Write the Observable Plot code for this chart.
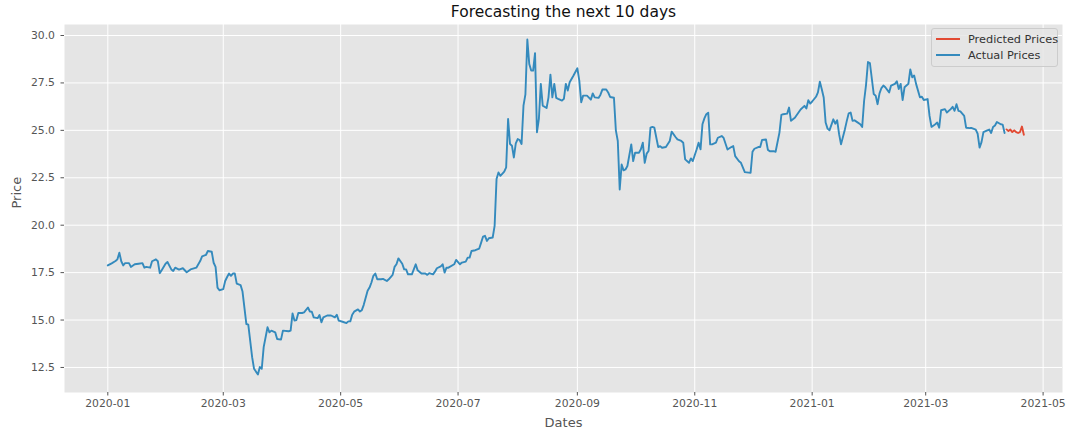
<!DOCTYPE html>
<html>
<head>
<meta charset="utf-8">
<script src="https://cdn.jsdelivr.net/npm/d3@7"></script>
<script src="https://cdn.jsdelivr.net/npm/@observablehq/plot@0.6"></script>
<style>
  body { margin: 0; background: white; }
  #wrap { position: relative; width: 1076px; height: 437px; font-family: "DejaVu Sans", sans-serif; }
  #legend { position: absolute; left: 931px; top: 28px; width: 127px; height: 39px;
    background: rgba(229,229,229,0.8); border: 1px solid #cccccc; border-radius: 3px; box-sizing: border-box; }
  .item { position: absolute; left: 0; height: 14px; display: flex; align-items: center; font-size: 11.3px; color: #333; white-space: nowrap; }
  .sw { display: inline-block; width: 24px; height: 2px; margin-left: 4px; margin-right: 8px; }
</style>
</head>
<body>
<div id="wrap">
  <div id="chart"></div>
  <div id="legend">
    <div class="item" style="top:3px"><span class="sw" style="background:#E24A33"></span>Predicted Prices</div>
    <div class="item" style="top:19px"><span class="sw" style="background:#348ABD"></span>Actual Prices</div>
  </div>
</div>
<script>
const titleText = "Forecasting the next 10 days";
const xLabel = "Dates";
const yLabel = "Price";

const actual = [
["2020-01-01",17.88],["2020-01-03",17.99],["2020-01-05",18.11],["2020-01-06",18.2],["2020-01-07",18.55],["2020-01-08",18.1],["2020-01-09",17.88],["2020-01-10",18.0],["2020-01-12",18.0],["2020-01-13",17.8],["2020-01-15",17.94],["2020-01-17",17.97],["2020-01-19",18.0],["2020-01-20",17.76],["2020-01-21",17.8],["2020-01-23",17.76],["2020-01-24",18.1],["2020-01-26",18.2],["2020-01-27",18.1],["2020-01-28",17.47],["2020-01-29",17.62],["2020-01-31",17.97],
["2020-02-01",18.06],["2020-02-03",17.67],["2020-02-04",17.59],["2020-02-05",17.76],["2020-02-07",17.66],["2020-02-09",17.73],["2020-02-11",17.52],["2020-02-13",17.67],["2020-02-16",17.76],["2020-02-18",18.11],["2020-02-19",18.36],["2020-02-21",18.43],["2020-02-22",18.64],["2020-02-24",18.6],["2020-02-25",18.02],["2020-02-26",17.8],["2020-02-27",16.71],["2020-02-28",16.57],
["2020-03-01",16.63],["2020-03-02",17.06],["2020-03-03",17.27],["2020-03-04",17.45],["2020-03-05",17.33],["2020-03-06",17.45],["2020-03-07",17.45],["2020-03-08",16.92],["2020-03-10",16.84],["2020-03-11",16.5],["2020-03-13",14.79],["2020-03-14",14.76],["2020-03-16",13.04],["2020-03-17",12.43],["2020-03-19",12.13],["2020-03-20",12.52],["2020-03-21",12.43],["2020-03-22",13.57],["2020-03-24",14.62],["2020-03-25",14.35],["2020-03-26",14.44],["2020-03-28",14.35],["2020-03-29",14.0],["2020-03-31",13.97],
["2020-04-01",14.44],["2020-04-04",14.41],["2020-04-05",14.44],["2020-04-06",15.35],["2020-04-07",14.97],["2020-04-08",15.0],["2020-04-09",15.37],["2020-04-11",15.37],["2020-04-12",15.4],["2020-04-14",15.66],["2020-04-15",15.45],["2020-04-16",15.44],["2020-04-17",15.14],["2020-04-19",15.1],["2020-04-20",15.26],["2020-04-21",14.88],["2020-04-22",15.14],["2020-04-24",15.24],["2020-04-26",15.24],["2020-04-28",15.14],["2020-04-29",15.28],["2020-04-30",14.97],
["2020-05-02",14.91],["2020-05-04",14.84],["2020-05-05",14.93],["2020-05-06",14.93],["2020-05-07",15.28],["2020-05-08",15.44],["2020-05-10",15.56],["2020-05-11",15.45],["2020-05-12",15.52],["2020-05-13",15.8],["2020-05-15",16.54],["2020-05-16",16.71],["2020-05-17",16.98],["2020-05-18",17.33],["2020-05-19",17.45],["2020-05-20",17.15],["2020-05-22",17.15],["2020-05-23",17.17],["2020-05-25",17.06],["2020-05-26",17.15],["2020-05-28",17.38],["2020-05-29",17.8],["2020-05-30",17.94],["2020-05-31",18.25],
["2020-06-02",17.97],["2020-06-03",17.67],["2020-06-04",17.67],["2020-06-05",17.41],["2020-06-07",17.41],["2020-06-08",17.67],["2020-06-09",17.94],["2020-06-10",17.62],["2020-06-12",17.45],["2020-06-14",17.45],["2020-06-15",17.38],["2020-06-16",17.47],["2020-06-18",17.41],["2020-06-19",17.55],["2020-06-20",17.73],["2020-06-22",17.83],["2020-06-23",17.94],["2020-06-24",17.5],["2020-06-25",17.76],["2020-06-26",17.76],["2020-06-29",17.94],["2020-06-30",18.17],
["2020-07-02",17.94],["2020-07-03",18.03],["2020-07-05",18.08],["2020-07-06",18.29],["2020-07-07",18.29],["2020-07-08",18.64],["2020-07-10",18.68],["2020-07-12",18.77],["2020-07-13",19.08],["2020-07-14",19.4],["2020-07-15",19.44],["2020-07-16",19.17],["2020-07-17",19.31],["2020-07-19",19.35],["2020-07-20",19.96],["2020-07-21",22.43],["2020-07-22",22.78],["2020-07-23",22.6],["2020-07-25",22.82],["2020-07-26",23.05],["2020-07-27",25.6],["2020-07-28",24.28],["2020-07-29",24.19],["2020-07-30",23.57],["2020-07-31",24.31],
["2020-08-01",24.54],["2020-08-02",24.49],["2020-08-03",24.28],["2020-08-04",26.3],["2020-08-05",26.9],["2020-08-06",29.79],["2020-08-07",28.5],["2020-08-08",28.15],["2020-08-09",28.15],["2020-08-10",29.07],["2020-08-11",24.9],["2020-08-12",25.6],["2020-08-13",27.45],["2020-08-14",26.3],["2020-08-16",26.18],["2020-08-17",26.74],["2020-08-18",27.94],["2020-08-19",26.74],["2020-08-20",27.45],["2020-08-21",26.71],["2020-08-22",26.66],["2020-08-24",26.57],["2020-08-25",26.66],["2020-08-26",27.45],["2020-08-27",27.1],["2020-08-28",27.54],["2020-08-30",27.89],
["2020-09-01",28.27],["2020-09-02",27.62],["2020-09-03",26.48],["2020-09-04",26.83],["2020-09-06",26.83],["2020-09-08",26.62],["2020-09-09",26.95],["2020-09-10",26.74],["2020-09-12",26.71],["2020-09-13",26.88],["2020-09-14",27.15],["2020-09-16",27.15],["2020-09-17",27.0],["2020-09-18",26.76],["2020-09-20",26.72],["2020-09-21",25.0],["2020-09-22",24.44],["2020-09-23",21.88],["2020-09-24",23.2],["2020-09-25",22.89],["2020-09-26",22.94],["2020-09-27",23.12],["2020-09-29",24.26],["2020-09-30",23.38],
["2020-10-01",23.82],["2020-10-03",23.82],["2020-10-04",24.0],["2020-10-05",24.35],["2020-10-06",23.29],["2020-10-07",23.77],["2020-10-08",23.91],["2020-10-09",25.14],["2020-10-10",25.18],["2020-10-11",25.14],["2020-10-13",24.12],["2020-10-14",24.17],["2020-10-15",24.08],["2020-10-17",24.12],["2020-10-19",24.44],["2020-10-20",24.93],["2020-10-22",24.65],["2020-10-23",24.52],["2020-10-25",24.44],["2020-10-26",24.35],["2020-10-27",23.47],["2020-10-29",23.29],["2020-10-30",23.52],["2020-10-31",23.38],
["2020-11-02",24.0],["2020-11-03",24.35],["2020-11-04",24.0],["2020-11-05",25.32],["2020-11-06",25.63],["2020-11-07",25.85],["2020-11-08",25.93],["2020-11-09",24.26],["2020-11-10",24.26],["2020-11-12",24.35],["2020-11-13",24.61],["2020-11-15",24.7],["2020-11-16",24.6],["2020-11-18",23.99],["2020-11-20",24.12],["2020-11-21",24.17],["2020-11-22",23.64],["2020-11-24",23.37],["2020-11-25",23.29],["2020-11-27",22.8],["2020-11-30",22.76],
["2020-12-01",23.87],["2020-12-02",24.03],["2020-12-04",24.12],["2020-12-05",24.12],["2020-12-06",24.5],["2020-12-08",24.52],["2020-12-09",23.97],["2020-12-10",23.9],["2020-12-12",23.9],["2020-12-13",23.87],["2020-12-15",24.88],["2020-12-16",25.81],["2020-12-17",25.85],["2020-12-19",25.88],["2020-12-20",26.2],["2020-12-21",25.5],["2020-12-23",25.66],["2020-12-24",25.81],["2020-12-26",26.1],["2020-12-28",26.29],["2020-12-29",26.15],["2020-12-30",26.59],["2020-12-31",26.41],
["2021-01-01",26.52],["2021-01-03",26.77],["2021-01-04",27.0],["2021-01-05",27.56],["2021-01-06",27.17],["2021-01-07",26.73],["2021-01-08",25.41],["2021-01-09",25.09],["2021-01-10",25.0],["2021-01-12",25.58],["2021-01-13",25.35],["2021-01-14",25.53],["2021-01-15",24.8],["2021-01-16",24.26],["2021-01-18",25.05],["2021-01-19",25.5],["2021-01-20",25.9],["2021-01-21",25.94],["2021-01-22",25.5],["2021-01-23",25.53],["2021-01-24",25.46],["2021-01-26",25.32],["2021-01-27",25.18],["2021-01-28",26.56],["2021-01-29",27.4],["2021-01-30",28.6],["2021-01-31",28.55],
["2021-02-02",26.91],["2021-02-03",26.83],["2021-02-04",26.38],["2021-02-05",26.95],["2021-02-06",27.23],["2021-02-07",27.36],["2021-02-08",27.27],["2021-02-10",27.0],["2021-02-11",27.36],["2021-02-13",27.45],["2021-02-14",27.59],["2021-02-15",27.18],["2021-02-16",27.45],["2021-02-17",26.6],["2021-02-18",27.27],["2021-02-19",27.36],["2021-02-20",27.45],["2021-02-21",28.21],["2021-02-22",27.8],["2021-02-23",27.89],["2021-02-24",27.45],["2021-02-26",26.74],["2021-02-27",26.77],["2021-02-28",26.6],
["2021-03-02",26.65],["2021-03-03",25.76],["2021-03-04",25.18],["2021-03-06",25.32],["2021-03-07",25.41],["2021-03-08",25.14],["2021-03-09",26.06],["2021-03-11",26.12],["2021-03-12",25.94],["2021-03-14",26.12],["2021-03-15",26.24],["2021-03-16",26.03],["2021-03-17",26.38],["2021-03-18",26.03],["2021-03-19",26.0],["2021-03-21",25.76],["2021-03-22",25.14],["2021-03-24",25.12],["2021-03-25",25.12],["2021-03-27",25.04],["2021-03-28",24.82],["2021-03-29",24.09],["2021-03-30",24.38],["2021-03-31",24.91],
["2021-04-02",25.0],["2021-04-03",25.04],["2021-04-04",24.86],["2021-04-05",25.18],["2021-04-06",25.26],["2021-04-07",25.44],["2021-04-09",25.32],["2021-04-10",25.3],["2021-04-11",24.86]
];

const predicted = [
["2021-04-12",25.05],["2021-04-13",24.96],["2021-04-14",25.04],["2021-04-15",24.91],["2021-04-16",25.0],["2021-04-17",24.91],["2021-04-18",24.86],["2021-04-19",24.91],["2021-04-20",25.2],["2021-04-21",24.77]
];

const xTickLabels = ["2020-01","2020-03","2020-05","2020-07","2020-09","2020-11","2021-01","2021-03","2021-05"];
const yTicks = [12.5, 15.0, 17.5, 20.0, 22.5, 25.0, 27.5, 30.0];

const toRows = arr => arr.map(([d, p]) => ({date: new Date(d + "T00:00:00Z"), price: p}));
const actualRows = toRows(actual);
const predictedRows = toRows(predicted);
const xTicks = xTickLabels.map(s => new Date(s + "-01T00:00:00Z"));

const chart = Plot.plot({
  width: 1076,
  height: 437,
  marginLeft: 64,
  marginRight: 14,
  marginTop: 24,
  marginBottom: 45,
  style: {background: "white", color: "#555555", fontFamily: "DejaVu Sans, sans-serif", overflow: "visible"},
  x: {type: "utc", domain: [new Date("2019-12-09T12:00:00Z"), new Date("2021-05-11T02:00:00Z")]},
  y: {domain: [11.18, 30.58]},
  marks: [
    Plot.frame({fill: "#E5E5E5", stroke: null}),
    Plot.gridX(xTicks, {stroke: "white", strokeOpacity: 1, strokeWidth: 1}),
    Plot.gridY(yTicks, {stroke: "white", strokeOpacity: 1, strokeWidth: 1}),
    Plot.axisX(xTicks, {tickFormat: d3.utcFormat("%Y-%m"), tickSize: 3.5, tickPadding: 3.5, fontSize: 10.8, label: null}),
    Plot.axisY(yTicks, {tickFormat: d => d.toFixed(1), tickSize: 3.5, tickPadding: 6, fontSize: 10.8, label: null}),
    Plot.line(predictedRows, {x: "date", y: "price", stroke: "#E24A33", strokeWidth: 1.9}),
    Plot.line(actualRows, {x: "date", y: "price", stroke: "#348ABD", strokeWidth: 1.9}),
    Plot.text([titleText], {frameAnchor: "top", lineAnchor: "middle", dy: -12, fontSize: 15.5, fill: "#111"}),
    Plot.text([xLabel], {frameAnchor: "bottom", lineAnchor: "middle", dy: 30, fontSize: 13, fill: "#555555"}),
    Plot.text([yLabel], {frameAnchor: "left", lineAnchor: "middle", dx: -48, rotate: -90, fontSize: 13, fill: "#555555"})
  ]
});
document.getElementById("chart").appendChild(chart);
</script>
</body>
</html>
